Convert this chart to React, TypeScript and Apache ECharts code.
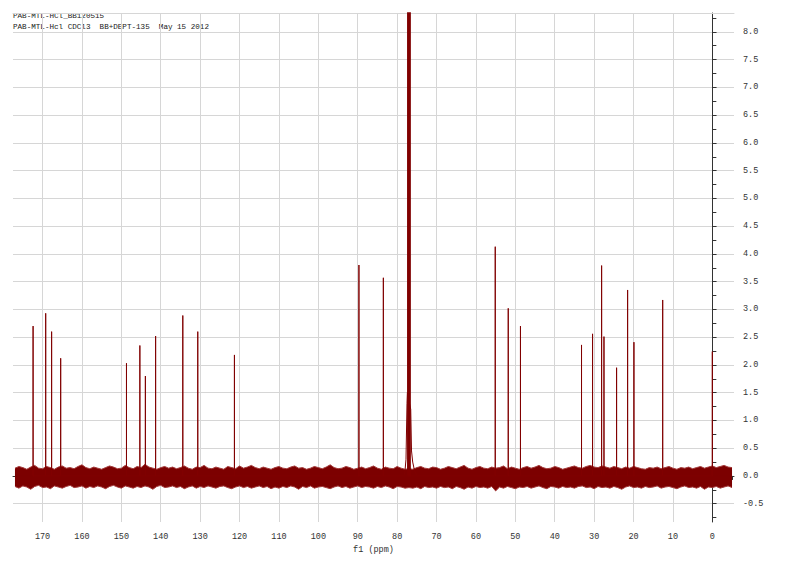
import React, { useEffect, useRef } from "react";
import * as echarts from "echarts";

// ---- texts ----
const headerLines = [
  "PAB-MTL-HCl_BB120515",
  "PAB-MTL-Hcl CDCl3  BB+DEPT-135  May 15 2012",
];
const xAxisTitle = "f1 (ppm)";

// ---- axes ----
const xMin = -5.5;
const xMax = 177.5;
const yMin = -0.83;
const yMax = 8.34;
const xMajorTicks = [0, 10, 20, 30, 40, 50, 60, 70, 80, 90, 100, 110, 120, 130, 140, 150, 160, 170];
const xMinorTicks = [-5, 0, 5, 10, 15, 20, 25, 30, 35, 40, 45, 50, 55, 60, 65, 70, 75, 80, 85, 90, 95, 100, 105, 110, 115, 120, 125, 130, 135, 140, 145, 150, 155, 160, 165, 170, 175];
const yMajorTicks = [-0.5, 0, 0.5, 1, 1.5, 2, 2.5, 3, 3.5, 4, 4.5, 5, 5.5, 6, 6.5, 7, 7.5, 8];
const yMinorTicks = [-0.75, -0.5, -0.25, 0, 0.25, 0.5, 0.75, 1, 1.25, 1.5, 1.75, 2, 2.25, 2.5, 2.75, 3, 3.25, 3.5, 3.75, 4, 4.25, 4.5, 4.75, 5, 5.25, 5.5, 5.75, 6, 6.25, 6.5, 6.75, 7, 7.25, 7.5, 7.75, 8, 8.25];

// ---- spectrum peaks (ppm, intensity) ----
const peakShifts = [172.4, 169.2, 167.7, 165.4, 148.7, 145.3, 143.9, 141.3, 134.4, 130.6, 121.3, 89.7, 83.5, 55.1, 51.8, 48.7, 33.2, 30.4, 28.1, 27.5, 24.3, 21.5, 19.9, 12.6, 0.0];
const peakHeights = [2.7, 2.93, 2.6, 2.12, 2.03, 2.35, 1.8, 2.52, 2.89, 2.6, 2.18, 3.8, 3.57, 4.13, 3.02, 2.7, 2.36, 2.56, 3.79, 2.51, 1.95, 3.35, 2.41, 3.17, 2.24];

// CDCl3 triplet (off scale) and its base
const solventShifts = [77.32, 77.0, 76.68];
const solventHeights = [40, 40, 40];
const solventWingShifts = [78.1, 77.75, 77.5, 77.4, 76.55, 76.35, 76.05, 75.6, 75.1];
const solventWingHeights = [0.02, 0.3, 1.3, 1.5, 1.2, 0.45, 0.25, 0.1, 0.02];

// ---- baseline noise envelope, sampled every 1 ppm from 177 down to -5 ----
const noiseStartPpm = 177;
const noiseStepPpm = 1;
const noiseUpper = [
  0.14, 0.17, 0.15, 0.12, 0.16, 0.19, 0.14, 0.13, 0.17, 0.15,
  0.12, 0.16, 0.18, 0.14, 0.15, 0.13, 0.17, 0.2, 0.15, 0.13,
  0.16, 0.14, 0.12, 0.15, 0.18, 0.16, 0.13, 0.14, 0.19, 0.15,
  0.13, 0.17, 0.15, 0.21, 0.16, 0.14, 0.12, 0.15, 0.17, 0.14,
  0.16, 0.13, 0.15, 0.18, 0.14, 0.12, 0.16, 0.15, 0.19, 0.14,
  0.13, 0.16, 0.14, 0.12, 0.17, 0.15, 0.13, 0.18, 0.14, 0.16,
  0.19, 0.15, 0.13, 0.16, 0.14, 0.12, 0.15, 0.17, 0.14, 0.13,
  0.16, 0.18, 0.14, 0.15, 0.12, 0.14, 0.17, 0.15, 0.13, 0.16,
  0.2, 0.15, 0.13, 0.14, 0.17, 0.15, 0.12, 0.14, 0.16, 0.13,
  0.15, 0.18, 0.14, 0.12, 0.16, 0.14, 0.13, 0.17, 0.14, 0.12,
  0.13, 0.12, 0.15, 0.17, 0.14, 0.13, 0.16, 0.15, 0.12, 0.14,
  0.17, 0.15, 0.13, 0.16, 0.19, 0.14, 0.12, 0.15, 0.17, 0.14,
  0.13, 0.16, 0.14, 0.15, 0.18, 0.13, 0.16, 0.14, 0.12, 0.15,
  0.17, 0.14, 0.16, 0.19, 0.15, 0.13, 0.14, 0.17, 0.15, 0.12,
  0.14, 0.16, 0.18, 0.15, 0.14, 0.17, 0.19, 0.16, 0.15, 0.18,
  0.16, 0.14, 0.17, 0.15, 0.13, 0.16, 0.14, 0.17, 0.15, 0.13,
  0.12, 0.15, 0.14, 0.16, 0.13, 0.15, 0.17, 0.14, 0.12, 0.15,
  0.14, 0.16, 0.13, 0.15, 0.17, 0.14, 0.16, 0.18, 0.15, 0.17,
  0.19, 0.16, 0.15,
];
const noiseLower = [
  -0.19, -0.22, -0.18, -0.2, -0.24, -0.19, -0.17, -0.21, -0.2, -0.23,
  -0.18, -0.2, -0.22, -0.19, -0.17, -0.21, -0.2, -0.18, -0.22, -0.19,
  -0.21, -0.18, -0.2, -0.23, -0.19, -0.17, -0.2, -0.22, -0.18, -0.2,
  -0.22, -0.19, -0.21, -0.18, -0.2, -0.24, -0.19, -0.17, -0.21, -0.2,
  -0.18, -0.21, -0.19, -0.23, -0.2, -0.18, -0.22, -0.19, -0.21, -0.18,
  -0.2, -0.22, -0.19, -0.18, -0.21, -0.23, -0.2, -0.18, -0.21, -0.19,
  -0.22, -0.2, -0.18, -0.21, -0.19, -0.23, -0.2, -0.22, -0.19, -0.21,
  -0.18, -0.2, -0.24, -0.19, -0.21, -0.18, -0.22, -0.2, -0.19, -0.21,
  -0.23, -0.2, -0.18, -0.21, -0.19, -0.22, -0.2, -0.18, -0.21, -0.19,
  -0.2, -0.22, -0.19, -0.21, -0.18, -0.2, -0.23, -0.19, -0.2, -0.22,
  -0.21, -0.22, -0.2, -0.23, -0.19, -0.21, -0.2, -0.22, -0.19, -0.21,
  -0.2, -0.23, -0.19, -0.21, -0.24, -0.2, -0.22, -0.19, -0.21, -0.2,
  -0.22, -0.19, -0.27, -0.2, -0.22, -0.19, -0.21, -0.23, -0.2, -0.21,
  -0.19, -0.22, -0.2, -0.18, -0.21, -0.23, -0.19, -0.2, -0.22, -0.19,
  -0.21, -0.2, -0.22, -0.19, -0.18, -0.21, -0.2, -0.23, -0.19, -0.21,
  -0.2, -0.22, -0.19, -0.21, -0.24, -0.2, -0.18, -0.21, -0.2, -0.22,
  -0.19, -0.21, -0.2, -0.18, -0.22, -0.2, -0.19, -0.21, -0.23, -0.2,
  -0.18, -0.21, -0.2, -0.22, -0.19, -0.24, -0.2, -0.21, -0.19, -0.22,
  -0.2, -0.18, -0.21,
];

const FONT = "Liberation Mono";
const LINE = "#800000";

export default function App() {
  const ref = useRef<HTMLDivElement>(null);

  useEffect(() => {
    if (!ref.current) return;
    const chart = echarts.init(ref.current, undefined, { renderer: "svg" });

    const noisePpm = noiseUpper.map((_, i) => noiseStartPpm - i * noiseStepPpm);
    const peakData: number[][] = [];
    peakShifts.forEach((s, i) => {
      peakData.push([s, 0], [s, peakHeights[i]], [s, 0]);
    });
    const solventData: number[][] = [];
    solventShifts.forEach((s, i) => {
      solventData.push([s, 0], [s, solventHeights[i]], [s, 0]);
    });
    const wingData = solventWingShifts.map((s, i) => [s, solventWingHeights[i]]);

    const xBase = {
      type: "value" as const,
      min: xMin,
      max: xMax,
      inverse: true,
      gridIndex: 0,
    };
    const yBase = {
      type: "value" as const,
      min: yMin,
      max: yMax,
      gridIndex: 0,
    };

    chart.setOption({
      animation: false,
      backgroundColor: "#ffffff",
      grid: { left: 13, right: 66, top: 13, bottom: 43, containLabel: false },
      xAxis: [
        {
          ...xBase,
          position: "bottom",
          axisLine: { show: true, lineStyle: { color: "#333333", width: 1 } },
          axisTick: { show: false, customValues: xMajorTicks },
          axisLabel: {
            customValues: xMajorTicks,
            formatter: (v: number) => String(Math.round(v)),
            fontFamily: FONT,
            fontSize: 8.5,
            color: "#333333",
            margin: 10,
          },
          splitLine: { show: true, lineStyle: { color: "#d6d6d6", width: 1 } },
          name: xAxisTitle,
          nameLocation: "middle",
          nameGap: 21,
          nameTextStyle: { fontFamily: FONT, fontSize: 8.5, color: "#333333" },
        },
        {
          ...xBase,
          position: "bottom",
          axisLine: { show: false },
          axisTick: { show: true, customValues: xMinorTicks, length: 4, lineStyle: { color: "#333333" } },
          axisLabel: { show: false },
          splitLine: { show: false },
        },
        {
          ...xBase,
          position: "top",
          axisLine: { show: true, lineStyle: { color: "#d6d6d6", width: 1 } },
          axisTick: { show: false },
          axisLabel: { show: false },
          splitLine: { show: false },
        },
      ],
      yAxis: [
        {
          ...yBase,
          position: "right",
          offset: 4,
          axisLine: { show: true, lineStyle: { color: "#333333", width: 1 } },
          axisTick: { show: true, customValues: yMajorTicks, length: 4, lineStyle: { color: "#333333" } },
          axisLabel: {
            customValues: yMajorTicks,
            formatter: (v: number) => v.toFixed(1),
            fontFamily: FONT,
            fontSize: 8.5,
            color: "#333333",
            margin: 5,
          },
          splitLine: { show: true, lineStyle: { color: "#d6d6d6", width: 1 } },
        },
        {
          ...yBase,
          position: "right",
          offset: 4,
          axisLine: { show: false },
          axisTick: { show: true, customValues: yMinorTicks, length: 4, lineStyle: { color: "#333333" } },
          axisLabel: { show: false },
          splitLine: { show: false },
        },
      ],
      graphic: [
        {
          type: "text",
          left: 13,
          top: 12,
          style: { text: headerLines[0], fontFamily: FONT, fontSize: 7.6, fill: "#222222" },
        },
        {
          type: "text",
          left: 13,
          top: 23,
          style: { text: headerLines[1], fontFamily: FONT, fontSize: 7.6, fill: "#222222" },
        },
      ],
      series: [
        {
          type: "line",
          name: "noise-upper",
          xAxisIndex: 0,
          yAxisIndex: 0,
          data: noisePpm.map((p, i) => [p, noiseUpper[i]]),
          symbol: "none",
          silent: true,
          lineStyle: { color: "#a33a3a", width: 1 },
          areaStyle: { color: "#7c0000", opacity: 1 },
        },
        {
          type: "line",
          name: "noise-lower",
          xAxisIndex: 0,
          yAxisIndex: 0,
          data: noisePpm.map((p, i) => [p, noiseLower[i]]),
          symbol: "none",
          silent: true,
          lineStyle: { color: "#a33a3a", width: 1 },
          areaStyle: { color: "#7c0000", opacity: 1 },
        },
        {
          type: "line",
          name: "peaks",
          xAxisIndex: 0,
          yAxisIndex: 0,
          data: peakData,
          symbol: "none",
          silent: true,
          clip: true,
          lineStyle: { color: LINE, width: 1 },
        },
        {
          type: "line",
          name: "solvent-base",
          xAxisIndex: 0,
          yAxisIndex: 0,
          data: wingData,
          symbol: "none",
          silent: true,
          clip: true,
          lineStyle: { color: LINE, width: 1 },
        },
        {
          type: "line",
          name: "solvent",
          xAxisIndex: 0,
          yAxisIndex: 0,
          data: solventData,
          symbol: "none",
          silent: true,
          clip: true,
          lineStyle: { color: LINE, width: 1.3 },
        },
      ],
    });

    return () => {
      chart.dispose();
    };
  }, []);

  return (
    <div
      ref={ref}
      style={{ position: "fixed", left: 0, top: 0, width: 800, height: 565, background: "#fff" }}
    />
  );
}
